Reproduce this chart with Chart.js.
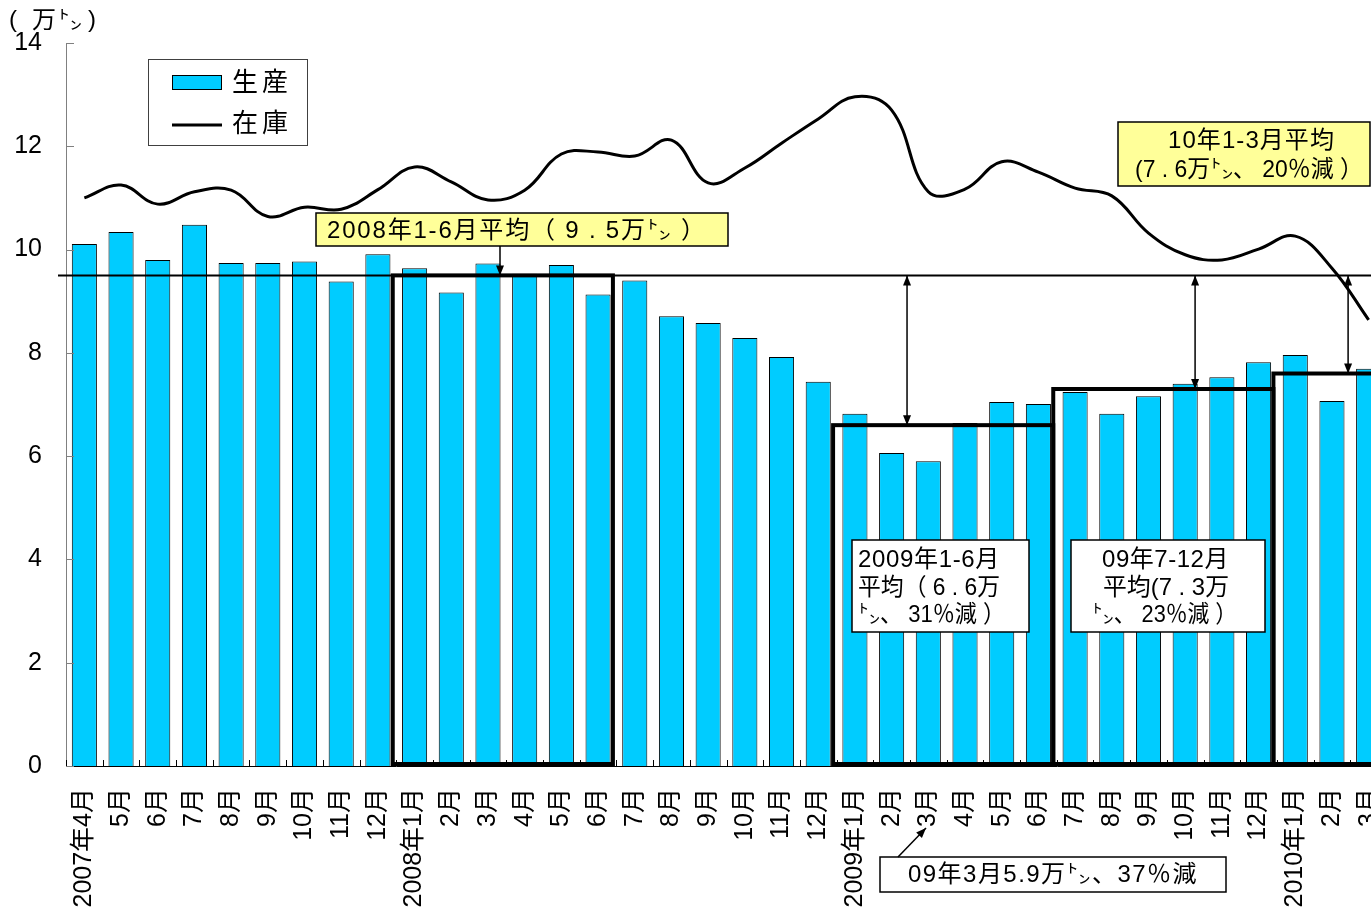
<!DOCTYPE html>
<html>
<head>
<meta charset="utf-8">
<script src="https://cdn.jsdelivr.net/npm/chart.js@4.4.1/dist/chart.umd.min.js"></script>
<style>
  html, body { margin: 0; padding: 0; background: #fff; overflow: hidden; }
  #wrap { width: 1400px; height: 912px; }
</style>
</head>
<body>
<div id="wrap"><canvas id="c" width="1400" height="912"></canvas></div>
<script>
// 月次カテゴリ（2007年4月〜2010年3月）
const months = [
  '2007年4月','5月','6月','7月','8月','9月','10月','11月','12月',
  '2008年1月','2月','3月','4月','5月','6月','7月','8月','9月','10月','11月','12月',
  '2009年1月','2月','3月','4月','5月','6月','7月','8月','9月','10月','11月','12月',
  '2010年1月','2月','3月'
];

// 生産（万トン）
const production = [
  10.11, 10.34, 9.80, 10.48, 9.74, 9.74, 9.77, 9.38, 9.91,
  9.64, 9.17, 9.73, 9.53, 9.70, 9.13, 9.40, 8.71, 8.58, 8.29, 7.92, 7.44,
  6.82, 6.06, 5.90, 6.64, 7.05, 7.01, 7.24, 6.82, 7.16, 7.40, 7.53, 7.82,
  7.96, 7.07, 7.69
];

// 在庫（万トン）
const inventory = [
  11.00, 11.25, 10.88, 11.12, 11.15, 10.64, 10.82, 10.78, 11.16,
  11.60, 11.31, 10.96, 11.15, 11.85, 11.89, 11.81, 12.12, 11.29, 11.58, 12.06, 12.53,
  12.96, 12.70, 11.12, 11.17, 11.70, 11.50, 11.19, 11.04, 10.32, 9.90, 9.80, 10.01,
  10.26, 9.64, 8.64
];

// y軸目盛
const yTicks = [0, 2, 4, 6, 8, 10, 12, 14];

// 期間平均（開始・終了はカテゴリ番号）
const periodStart = [9, 21, 27, 33];
const periodEnd   = [14, 26, 32, 35];
const periodAvg   = [9.5, 6.6, 7.3, 7.6];
// 基準（2008年1-6月平均）からの差を示す矢印の位置（カテゴリ番号）
const diffArrowAt = [null, 22.42, 30.27, 34.44];

const FONT = '"Liberation Sans", Arial, "Noto Sans CJK JP", sans-serif';
const BAR_COLOR = '#00CCFF';

function line(ctx, x1, y1, x2, y2) {
  ctx.beginPath(); ctx.moveTo(x1, y1); ctx.lineTo(x2, y2); ctx.stroke();
}
function arrowHead(ctx, x1, y1, x2, y2, len = 10, half = 4) {
  const a = Math.atan2(y2 - y1, x2 - x1);
  ctx.beginPath();
  ctx.moveTo(x2, y2);
  ctx.lineTo(x2 - len * Math.cos(a) + half * Math.sin(a), y2 - len * Math.sin(a) - half * Math.cos(a));
  ctx.lineTo(x2 - len * Math.cos(a) - half * Math.sin(a), y2 - len * Math.sin(a) + half * Math.cos(a));
  ctx.closePath(); ctx.fill();
}
function arrow(ctx, x1, y1, x2, y2, both) {
  line(ctx, x1, y1, x2, y2);
  arrowHead(ctx, x1, y1, x2, y2);
  if (both) arrowHead(ctx, x2, y2, x1, y1);
}
// 指定幅に収まるよう字間を調整して描く（左端基準）
function fitText(ctx, text, left, cy, width) {
  ctx.letterSpacing = '0px';
  const w = ctx.measureText(text).width;
  const n = [...text].length;
  if (w < width) {
    ctx.letterSpacing = ((width - w) / n).toFixed(2) + 'px';
    ctx.fillText(text, left, cy);
  } else {
    ctx.fillText(text, left, cy, width);
  }
  ctx.letterSpacing = '0px';
}
function box(ctx, x, y, w, h, fill) {
  ctx.fillStyle = fill;
  ctx.fillRect(x, y, w, h);
  ctx.strokeStyle = '#000';
  ctx.lineWidth = 1.5;
  ctx.strokeRect(x, y, w, h);
}

const overlay = {
  id: 'overlay',
  afterDatasetsDraw(chart) {
    const { ctx, scales: { x, y }, chartArea: ca } = chart;
    const edge = i => x.getPixelForValue(i - 0.5);
    ctx.save();

    // 内向きの目盛線
    ctx.strokeStyle = '#808080';
    ctx.lineWidth = 1;
    yTicks.forEach(v => {
      const py = Math.round(y.getPixelForValue(v)) + 0.5;
      line(ctx, ca.left, py, ca.left + 8, py);
    });
    ctx.strokeStyle = '#000';
    for (let i = 0; i <= months.length; i++) {
      const px = Math.round(edge(i)) + 0.5;
      line(ctx, px, ca.bottom, px, ca.bottom - 6);
    }

    // 基準線（2008年1-6月平均）
    const yBase = y.getPixelForValue(periodAvg[0]);
    ctx.strokeStyle = '#000';
    ctx.lineWidth = 2;
    line(ctx, ca.left - 8, yBase, chart.width, yBase);

    // 期間平均の枠
    ctx.lineWidth = 4;
    periodStart.forEach((s, k) => {
      const l = edge(s) - 3.5;
      const r = edge(periodEnd[k] + 1) - 3.5;
      const t = y.getPixelForValue(periodAvg[k]);
      const b = y.getPixelForValue(0) - 2;
      ctx.strokeRect(l, t, r - l, b - t);
    });

    // 基準との差の両矢印
    ctx.lineWidth = 1.5;
    ctx.fillStyle = '#000';
    diffArrowAt.forEach((pos, k) => {
      if (pos === null) return;
      const px = x.getPixelForValue(pos);
      arrow(ctx, px, y.getPixelForValue(periodAvg[k]), px, yBase, true);
    });

    ctx.textBaseline = 'middle';
    ctx.font = '24px ' + FONT;

    // 2008年1-6月平均
    box(ctx, 316, 213, 412, 33, '#FFFF99');
    ctx.fillStyle = '#000';
    fitText(ctx, '2008年1-6月平均（ 9 . 5万㌧ ）', 327, 231, 380);
    ctx.lineWidth = 1.5;
    arrow(ctx, 500, 246, 500, yBase, false);

    // 10年1-3月平均
    box(ctx, 1118, 122, 252, 64, '#FFFF99');
    ctx.fillStyle = '#000';
    fitText(ctx, '10年1-3月平均', 1168, 141, 167);
    fitText(ctx, '(7 . 6万㌧、 20％減 ）', 1135, 170, 228);

    // 2009年1-6月平均
    box(ctx, 852, 540, 177, 92, '#FFFFFF');
    ctx.fillStyle = '#000';
    fitText(ctx, '2009年1-6月', 858, 560, 142);
    fitText(ctx, '平均（ 6 . 6万', 858, 588, 142);
    fitText(ctx, '㌧、 31％減 ）', 858, 615, 147);

    // 09年7-12月平均
    box(ctx, 1071, 540, 194, 92, '#FFFFFF');
    ctx.fillStyle = '#000';
    fitText(ctx, '09年7-12月', 1102, 560, 127);
    fitText(ctx, '平均(7 . 3万', 1103, 588, 126);
    fitText(ctx, '㌧、 23％減 ）', 1092, 615, 145);

    // 09年3月
    box(ctx, 880, 857, 346, 35, '#FFFFFF');
    ctx.fillStyle = '#000';
    fitText(ctx, '09年3月5.9万㌧、37％減', 908, 875, 290);
    ctx.lineWidth = 1.5;
    arrow(ctx, 898, 857, 926, 828, false);

    // 凡例
    ctx.fillStyle = '#fff';
    ctx.fillRect(148, 59, 159, 86);
    ctx.strokeStyle = '#404040';
    ctx.lineWidth = 1;
    ctx.strokeRect(148.5, 59.5, 159, 86);
    ctx.fillStyle = chart.data.datasets[0].backgroundColor;
    ctx.fillRect(172, 75, 50, 15);
    ctx.strokeStyle = '#000';
    ctx.strokeRect(172.5, 75.5, 49, 14);
    ctx.lineWidth = 3;
    line(ctx, 172, 125, 222, 125);
    ctx.fillStyle = '#000';
    ctx.font = '26px ' + FONT;
    ctx.letterSpacing = '4px';
    ctx.fillText(chart.data.datasets[0].label, 232, 84);
    ctx.fillText(chart.data.datasets[1].label, 232, 125);
    ctx.letterSpacing = '0px';

    // 単位
    ctx.font = '24px ' + FONT;
    ctx.fillText('(', 9, 20);
    ctx.fillText('万', 32, 21);
    ctx.fillText('㌧', 58, 21);
    ctx.fillText(')', 88, 20);

    ctx.restore();
  }
};

new Chart(document.getElementById('c'), {
  data: {
    labels: months,
    datasets: [
      {
        type: 'bar', label: '生産', data: production, order: 1,
        backgroundColor: BAR_COLOR, borderColor: '#000', borderWidth: 1,
        barPercentage: 0.9, categoryPercentage: 0.76
      },
      {
        type: 'line', label: '在庫', data: inventory, order: 0,
        borderColor: '#000', borderWidth: 3, pointRadius: 0, tension: 0.4, fill: false
      }
    ]
  },
  options: {
    responsive: false,
    animation: false,
    devicePixelRatio: 1,
    layout: { padding: { top: 43, right: 13, left: 0, bottom: 0 } },
    plugins: { legend: { display: false }, tooltip: { enabled: false } },
    scales: {
      x: {
        offset: true,
        grid: { display: false, drawTicks: false },
        border: { display: true, color: '#000', width: 1 },
        ticks: {
          autoSkip: false, maxRotation: 90, minRotation: 90, padding: 22,
          color: '#000', font: { family: FONT, size: 25 }
        },
        afterFit(s) { s.height = 146; s.paddingLeft = 0; s.paddingRight = 0; }
      },
      y: {
        min: 0, max: 14,
        grid: { display: false, drawTicks: false },
        border: { display: true, color: '#808080', width: 1 },
        afterBuildTicks(s) { s.ticks = yTicks.map(v => ({ value: v })); },
        ticks: { padding: 24, color: '#000', font: { family: FONT, size: 25 } },
        afterFit(s) { s.width = 66; }
      }
    }
  },
  plugins: [overlay]
});
</script>
</body>
</html>
